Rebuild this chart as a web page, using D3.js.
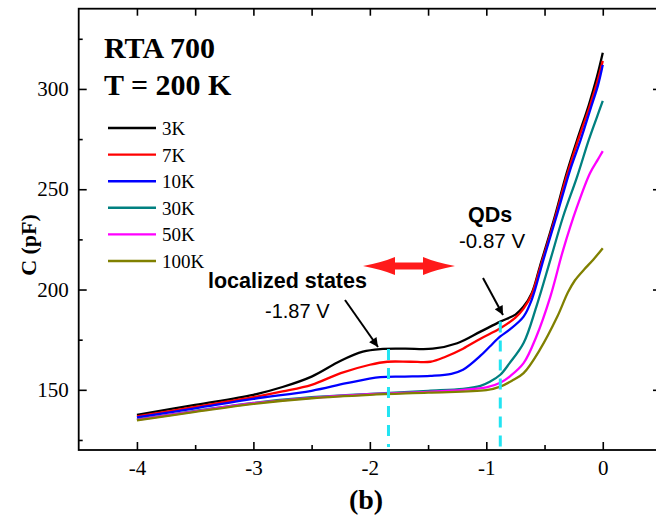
<!DOCTYPE html>
<html>
<head>
<meta charset="utf-8">
<script src="https://cdn.jsdelivr.net/npm/d3@7"></script>
<style>
  body { margin: 0; background: #fff; }
  svg { display: block; }
  .tick text { font-family: "Liberation Serif", "Times New Roman", serif; font-size: 21px; fill: #000; }
</style>
</head>
<body>
<div id="chart"></div>
<script>
// ---------------------------------------------------------
// Data
// ---------------------------------------------------------
const labels = ["3K", "7K", "10K", "30K", "50K", "100K"];

const v3K = [-4, -3.5, -3, -2.75, -2.5, -2.25, -2.06, -1.91, -1.7, -1.46, -1.25, -1.05, -0.88, -0.75, -0.68, -0.61, -0.54, -0.42, -0.31, -0.22, -0.12, -0.05, 0];
const c3K = [137.5, 142.5, 147.5, 151.4, 156.6, 164.5, 169, 170.3, 170.5, 170.5, 173.2, 179, 184, 187.5, 191.5, 198.2, 211.5, 234.7, 258, 274.6, 292, 306, 318];

const v7K = [-4, -3.5, -3, -2.75, -2.5, -2.25, -2, -1.85, -1.65, -1.48, -1.35, -1.2, -1.05, -0.88, -0.75, -0.68, -0.61, -0.54, -0.42, -0.31, -0.22, -0.12, -0.05, 0];
const c7K = [136.7, 141.5, 146.3, 149.2, 152.5, 158.3, 162.5, 164, 164, 164, 166.5, 170.5, 175.5, 180.7, 186, 190.5, 197.5, 210.5, 233.5, 256.5, 273, 290, 303, 314];

const v10K = [-4, -3.5, -3, -2.5, -2.2, -1.91, -1.7, -1.48, -1.3, -1.2, -1.05, -0.97, -0.88, -0.8, -0.68, -0.61, -0.51, -0.39, -0.28, -0.19, -0.1, -0.04, 0];
const c10K = [136.2, 140.8, 145.5, 149.5, 153.3, 156.3, 156.6, 157, 158, 160, 167, 171.6, 176.6, 180, 186.5, 194.9, 214.8, 238, 259.7, 274.6, 291, 302, 312];

const v30K = [-4, -3.5, -3, -2.5, -2, -1.5, -1.2, -1.05, -0.97, -0.88, -0.8, -0.68, -0.57, -0.45, -0.34, -0.22, -0.12, -0.05, 0];
const c30K = [135.3, 139.5, 143.5, 146.3, 148, 149.5, 150.5, 152, 154, 157.5, 163.3, 173.3, 191.5, 214.8, 236.4, 256.3, 274.6, 286, 294];

const v50K = [-4, -3.5, -3, -2.5, -2, -1.5, -1.2, -1, -0.88, -0.8, -0.68, -0.57, -0.45, -0.34, -0.22, -0.11, -0.04, 0];
const c50K = [135, 139.3, 143.3, 146, 147.8, 149, 150, 151.2, 153.5, 156.6, 163.3, 176.6, 196.5, 219.8, 241.4, 258, 265, 269];

const v100K = [-4, -3.5, -3, -2.5, -2, -1.5, -1, -0.88, -0.78, -0.68, -0.54, -0.39, -0.3, -0.24, -0.16, -0.08, 0];
const c100K = [134.8, 139, 143, 145.8, 147.5, 148.6, 149.8, 151.6, 154.5, 158.3, 170, 186.5, 198.5, 204.5, 210, 215, 220.6];

const voltages = [v3K, v7K, v10K, v30K, v50K, v100K];
const capacitances = [c3K, c7K, c10K, c30K, c50K, c100K];

const xMajorTicks = [-4, -3, -2, -1, 0];
const xMinorTicks = [-3.5, -2.5, -1.5, -0.5];
const xTopTicks = [-4, -3.5, -3, -2.5, -2, -1.5, -1, -0.5, 0];
const yMajorTicks = [150, 200, 250, 300];
const yMinorTicks = [125, 175, 225, 275, 325];

// markers: localized states at -1.84 V, QDs at -0.88 V
const markerV = [-1.84, -0.88];
const markerTop = [170.3, 184];

// ---------------------------------------------------------
// Styles / layout
// ---------------------------------------------------------
const colors = ["#000000", "#ff0000", "#0000ff", "#008080", "#ff00ff", "#808000"];
const width = 656, height = 524;
const plotLeft = 78.7, plotRight = 661, plotTop = 8.7, plotBottom = 450;
const serif = "'Liberation Serif', 'Times New Roman', serif";
const sans = "'Liberation Sans', Arial, sans-serif";

const svg = d3.select("#chart").append("svg")
  .attr("width", width)
  .attr("height", height);

const x = d3.scaleLinear().domain([-4.5, 0.5]).range([plotLeft, plotRight]);
const y = d3.scaleLinear().domain([120, 340]).range([plotBottom, plotTop]);

// --------------------------
// AXES
// --------------------------
function axisG(axis, tx, ty, noLabels) {
  const g = svg.append("g").attr("transform", `translate(${tx},${ty})`).call(axis);
  g.select(".domain").remove();
  g.selectAll(".tick line").attr("stroke", "#000").attr("stroke-width", 1.6);
  if (noLabels) g.selectAll(".tick text").remove();
  return g;
}

axisG(d3.axisBottom(x).tickValues(xMajorTicks).tickSizeInner(-8).tickSizeOuter(0).tickPadding(10).tickFormat(d3.format("d")), 0, plotBottom);
axisG(d3.axisBottom(x).tickValues(xMinorTicks).tickSizeInner(-5).tickSizeOuter(0), 0, plotBottom, true);
axisG(d3.axisTop(x).tickValues(xTopTicks).tickSizeInner(-7).tickSizeOuter(0), 0, plotTop, true);

axisG(d3.axisLeft(y).tickValues(yMajorTicks).tickSizeInner(-8).tickSizeOuter(0).tickPadding(10), plotLeft, 0);
axisG(d3.axisLeft(y).tickValues(yMinorTicks).tickSizeInner(-4).tickSizeOuter(0), plotLeft, 0, true);
axisG(d3.axisRight(y).tickValues(yMajorTicks).tickSizeInner(-8).tickSizeOuter(0), plotRight, 0, true);
axisG(d3.axisRight(y).tickValues(yMinorTicks).tickSizeInner(-4).tickSizeOuter(0), plotRight, 0, true);

// minus sign as plain hyphen like the original
svg.selectAll(".tick text").text(function () { return this.textContent.replace("−", "-"); });

svg.append("rect")
  .attr("x", plotLeft).attr("y", plotTop)
  .attr("width", plotRight - plotLeft).attr("height", plotBottom - plotTop)
  .attr("fill", "none").attr("stroke", "#000").attr("stroke-width", 1.8);

// --------------------------
// CURVES
// --------------------------
const line = d3.line()
  .x(d => x(d[0]))
  .y(d => y(d[1]))
  .curve(d3.curveCatmullRom.alpha(0.5));

voltages.forEach((vs, i) => {
  svg.append("path")
    .datum(vs.map((v, j) => [v, capacitances[i][j]]))
    .attr("fill", "none")
    .attr("stroke", colors[i])
    .attr("stroke-width", 2.3)
    .attr("stroke-linejoin", "round")
    .attr("d", line);
});

// cyan dashed markers
markerV.forEach((v, i) => {
  svg.append("line")
    .attr("x1", x(v)).attr("x2", x(v))
    .attr("y1", y(markerTop[i])).attr("y2", plotBottom - 3)
    .attr("stroke", "#22e4f2")
    .attr("stroke-width", 3)
    .attr("stroke-dasharray", "11 8");
});

// --------------------------
// LEGEND + TITLES
// --------------------------
const legend = svg.append("g");
labels.forEach((lab, i) => {
  const ly = 128 + i * 26.6;
  legend.append("line")
    .attr("x1", 108).attr("x2", 156)
    .attr("y1", ly).attr("y2", ly)
    .attr("stroke", colors[i]).attr("stroke-width", 2.4);
  legend.append("text")
    .attr("x", 162).attr("y", ly + 7)
    .attr("font-family", serif).attr("font-size", 19)
    .text(lab);
});

svg.append("text").attr("x", 104).attr("y", 58)
  .attr("font-family", serif).attr("font-size", 30).attr("font-weight", "bold")
  .text("RTA 700");
svg.append("text").attr("x", 104).attr("y", 95)
  .attr("font-family", serif).attr("font-size", 30).attr("font-weight", "bold")
  .text("T = 200 K");

svg.append("text")
  .attr("transform", "translate(36,245) rotate(-90)")
  .attr("text-anchor", "middle")
  .attr("font-family", serif).attr("font-size", 22).attr("font-weight", "bold")
  .text("C (pF)");

svg.append("text").attr("x", 366).attr("y", 509)
  .attr("text-anchor", "middle")
  .attr("font-family", serif).attr("font-size", 28).attr("font-weight", "bold")
  .text("(b)");

// --------------------------
// ANNOTATIONS
// --------------------------
svg.append("text").attr("x", 208).attr("y", 288)
  .attr("font-family", sans).attr("font-size", 21.5).attr("font-weight", "bold")
  .text("localized states");
svg.append("text").attr("x", 265).attr("y", 318)
  .attr("font-family", sans).attr("font-size", 20)
  .text("-1.87 V");
svg.append("text").attr("x", 468).attr("y", 222)
  .attr("font-family", sans).attr("font-size", 21.5).attr("font-weight", "bold")
  .text("QDs");
svg.append("text").attr("x", 459).attr("y", 248)
  .attr("font-family", sans).attr("font-size", 20.5)
  .text("-0.87 V");

svg.append("defs").append("marker")
  .attr("id", "head")
  .attr("viewBox", "0 0 10 10")
  .attr("refX", 10).attr("refY", 5)
  .attr("markerUnits", "userSpaceOnUse")
  .attr("markerWidth", 11).attr("markerHeight", 9)
  .attr("orient", "auto")
  .append("path").attr("d", "M0,0 L10,5 L0,10 Z").attr("fill", "#000");

[[345, 300, 378, 347], [483, 278, 503, 315]].forEach(a => {
  svg.append("line")
    .attr("x1", a[0]).attr("y1", a[1]).attr("x2", a[2]).attr("y2", a[3])
    .attr("stroke", "#000").attr("stroke-width", 2)
    .attr("marker-end", "url(#head)");
});

// red double arrow
(function () {
  const x0 = 363, x1 = 455, cy = 266, hl = 32, hh = 9, sh = 3.5;
  const p = d3.path();
  p.moveTo(x0, cy);
  p.quadraticCurveTo(x0 + hl * 0.6, cy - hh * 0.4, x0 + hl, cy - hh);
  p.lineTo(x0 + hl, cy - sh);
  p.lineTo(x1 - hl, cy - sh);
  p.lineTo(x1 - hl, cy - hh);
  p.quadraticCurveTo(x1 - hl * 0.6, cy - hh * 0.4, x1, cy);
  p.quadraticCurveTo(x1 - hl * 0.6, cy + hh * 0.4, x1 - hl, cy + hh);
  p.lineTo(x1 - hl, cy + sh);
  p.lineTo(x0 + hl, cy + sh);
  p.lineTo(x0 + hl, cy + hh);
  p.quadraticCurveTo(x0 + hl * 0.6, cy + hh * 0.4, x0, cy);
  p.closePath();
  svg.append("path").attr("d", p.toString()).attr("fill", "#ff1a1a");
})();
</script>
</body>
</html>
